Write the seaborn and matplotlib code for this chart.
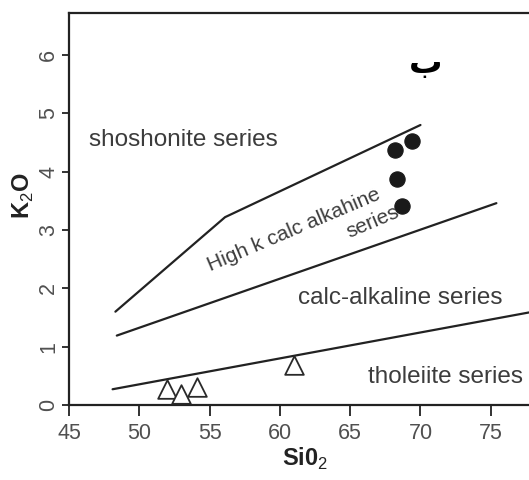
import matplotlib.pyplot as plt
import pandas as pd
import seaborn as sns


# boundary lines (SiO2, K2O)
shoshonite_si = [48.3, 56.1, 70.0]
shoshonite_k = [1.60, 3.22, 4.80]
highk_si = [48.4, 75.4]
highk_k = [1.19, 3.46]
tholeiite_si = [48.1, 77.8]
tholeiite_k = [0.27, 1.59]

# samples
circle_si = [68.2, 69.4, 68.3, 68.7]
circle_k = [4.38, 4.52, 3.87, 3.41]
triangle_si = [52.0, 53.0, 54.1, 61.0]
triangle_k = [0.27, 0.19, 0.31, 0.69]

x_ticks = [45, 50, 55, 60, 65, 70, 75]
y_ticks = [0, 1, 2, 3, 4, 5, 6]

LINE = "#222222"
TEXT = "#3c3c3c"
TICK_TEXT = "#505050"


def main() -> None:
    sns.set_style("ticks")
    plt.rcParams["font.family"] = ["Liberation Sans", "DejaVu Sans"]
    plt.rcParams["mathtext.fontset"] = "custom"
    plt.rcParams["mathtext.rm"] = "Liberation Sans"
    plt.rcParams["mathtext.bf"] = "Liberation Sans:bold"

    fig = plt.figure(figsize=(5.29, 4.80), dpi=100)
    ax = fig.add_axes([69 / 529, 1 - 405 / 480, 1 - 69 / 529, 392 / 480])

    lines = [
        (shoshonite_si, shoshonite_k),
        (highk_si, highk_k),
        (tholeiite_si, tholeiite_k),
    ]
    for xs, ys in lines:
        sns.lineplot(x=xs, y=ys, sort=False, estimator=None, color=LINE,
                     linewidth=1.6, ax=ax)

    circles = pd.DataFrame({"si": circle_si, "k": circle_k})
    triangles = pd.DataFrame({"si": triangle_si, "k": triangle_k})
    sns.scatterplot(data=circles, x="si", y="k", s=120, color="#1a1a1a",
                    edgecolor="#1a1a1a", ax=ax, zorder=3)
    sns.scatterplot(data=triangles, x="si", y="k", marker="^", s=180,
                    facecolor="white", edgecolor="#2a2a2a", linewidth=1.3,
                    ax=ax, zorder=3)

    ax.text(46.4, 4.55, "shoshonite series", fontsize=17.5, color=TEXT,
            va="center", ha="left")
    ax.text(61.0, 3.0, "High k calc alkahine", fontsize=15, color=TEXT,
            rotation=23, ha="center", va="center", rotation_mode="anchor")
    ax.text(66.6, 3.14, "series", fontsize=15, color=TEXT,
            rotation=23, ha="center", va="center", rotation_mode="anchor")
    ax.text(61.3, 1.84, "calc-alkaline series", fontsize=17.5, color=TEXT,
            va="center", ha="left")
    ax.text(66.3, 0.48, "tholeiite series", fontsize=17.5, color=TEXT,
            va="center", ha="left")
    ax.text(70.4, 5.86, "ب", fontsize=24, fontweight="bold", color="black",
            family="DejaVu Sans", ha="center", va="center")

    ax.set_xlim(45, 77.72)
    ax.set_ylim(0, 6.72)
    ax.set_xticks(x_ticks)
    ax.set_yticks(y_ticks)
    ax.tick_params(axis="x", length=8, width=1.3, color=LINE,
                   labelsize=15.5, labelcolor=TICK_TEXT, pad=5)
    ax.tick_params(axis="y", length=5, width=1.3, color=LINE,
                   labelsize=15.5, labelcolor=TICK_TEXT, pad=2)
    for label in ax.get_yticklabels():
        label.set_rotation(90)
        label.set_va("center")

    ax.set_xlabel(r"Si0$_2$", fontsize=17, fontweight="bold", color=LINE)
    ax.set_ylabel(r"K$_2$O", fontsize=17, fontweight="bold", color=LINE)
    ax.xaxis.set_label_coords(0.513, -0.105)
    ax.yaxis.set_label_coords(-0.072, 0.535)

    for side in ["left", "bottom", "top"]:
        ax.spines[side].set_linewidth(1.6)
        ax.spines[side].set_color(LINE)
    ax.spines["right"].set_visible(False)

    fig.savefig("out.png", dpi=100)
    plt.close(fig)


if __name__ == "__main__":
    main()
